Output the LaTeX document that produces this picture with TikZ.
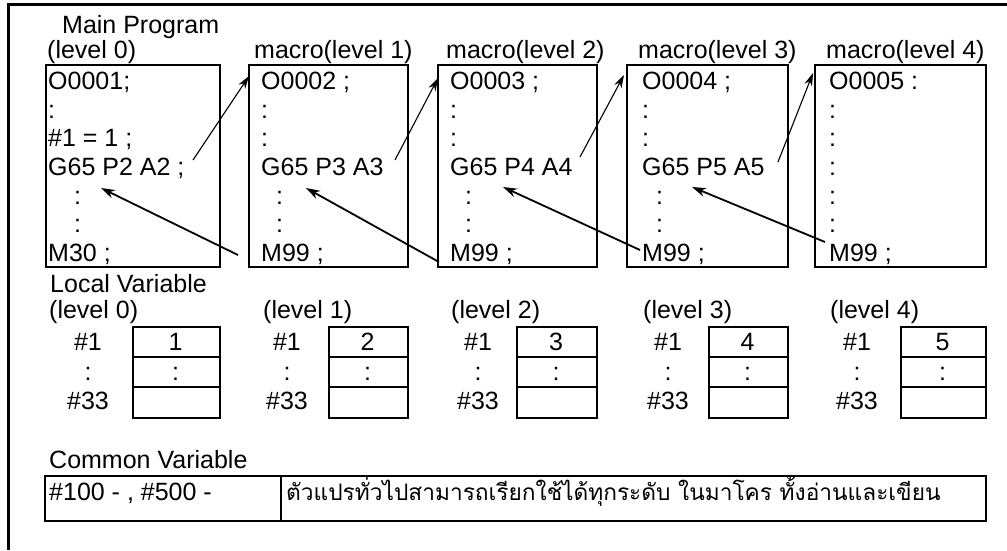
\documentclass[tikz,border=0pt]{standalone}
\usepackage{fontspec}
\setmainfont{Liberation Sans}
\newfontfamily\thaifont[Script=Thai]{Loma}
\usetikzlibrary{arrows.meta,calc}
\begin{document}
\begin{tikzpicture}[x=1pt,y=-1pt,
  txt/.style={inner sep=0pt,anchor=base west,font=\fontsize{25}{28}\selectfont},
  ctxt/.style={inner sep=0pt,anchor=base,font=\fontsize{25}{28}\selectfont},
  pbox/.style={draw,line width=2pt,inner sep=0pt,anchor=north west},
  cell/.style={draw,line width=2pt,inner sep=0pt,anchor=north west},
  frame/.style={line width=3pt},
  callarrow/.style={line width=1.1pt,-{Stealth[length=13pt,width=8pt]}},
  retarrow/.style={line width=1.8pt,-{Stealth[length=14pt,width=9pt]}}]
\useasboundingbox (0,0) rectangle (1007,550);
% outer frame (clipped)
\draw[frame] (8,550) -- (8,4.5) -- (1007,4.5);

% program boxes
\node[pbox,minimum width=174pt,minimum height=202pt] (b0) at (45,64) {};
\node[pbox,minimum width=159pt,minimum height=202pt] (b1) at (248,64) {};
\node[pbox,minimum width=159pt,minimum height=202pt] (b2) at (437,64) {};
\node[pbox,minimum width=161pt,minimum height=202pt] (b3) at (626,64) {};
\node[pbox,minimum width=171pt,minimum height=202pt] (b4) at (814,64) {};

% headers
\node[txt] (hmain) at (62,33) {Main Program};
\node[txt] (hl0) at (47,58) {(level 0)};
\node[txt] (hl1) at (254,58) {macro(level 1)};
\node[txt] (hl2) at (446,58) {macro(level 2)};
\node[txt] (hl3) at (638,58) {macro(level 3)};
\node[txt] (hl4) at (826,58) {macro(level 4)};

% box 0
\node[txt] (p0a) at (48,89.3) {O0001;};
\node[txt] (p0b) at (48,118) {:};
\node[txt] (p0c) at (48,146.7) {\#1 = 1 ;};
\node[txt] (p0d) at (48,175.4) {G65 P2 A2 ;};
\node[txt] (p0e) at (74,204) {:};
\node[txt] (p0f) at (74,232.8) {:};
\node[txt] (p0g) at (48,261.5) {M30 ;};
% box 1
\node[txt] (p1a) at (261,89.3) {O0002 ;};
\node[txt] (p1b) at (261,118) {:};
\node[txt] (p1c) at (261,146.7) {:};
\node[txt] (p1d) at (261,175.4) {G65 P3 A3};
\node[txt] (p1e) at (276,204) {:};
\node[txt] (p1f) at (276,232.8) {:};
\node[txt] (p1g) at (261,261.5) {M99 ;};
% box 2
\node[txt] (p2a) at (450,89.3) {O0003 ;};
\node[txt] (p2b) at (450,118) {:};
\node[txt] (p2c) at (450,146.7) {:};
\node[txt] (p2d) at (450,175.4) {G65 P4 A4};
\node[txt] (p2e) at (465,204) {:};
\node[txt] (p2f) at (465,232.8) {:};
\node[txt] (p2g) at (450,261.5) {M99 ;};
% box 3
\node[txt] (p3a) at (642,89.3) {O0004 ;};
\node[txt] (p3b) at (642,118) {:};
\node[txt] (p3c) at (642,146.7) {:};
\node[txt] (p3d) at (642,175.4) {G65 P5 A5};
\node[txt] (p3e) at (656,204) {:};
\node[txt] (p3f) at (656,232.8) {:};
\node[txt] (p3g) at (642,261.5) {M99 ;};
% box 4
\node[txt] (p4a) at (829,89.3) {O0005 :};
\node[txt] (p4b) at (829,118) {:};
\node[txt] (p4c) at (829,146.7) {:};
\node[txt] (p4d) at (829,175.4) {:};
\node[txt] (p4e) at (829,204) {:};
\node[txt] (p4f) at (829,232.8) {:};
\node[txt] (p4g) at (829,261.5) {M99 ;};

% call arrows
\coordinate (c0s) at (193,160); \coordinate (c0e) at (249,76);
\coordinate (c1s) at (395,160); \coordinate (c1e) at (438,78);
\coordinate (c2s) at (580,157); \coordinate (c2e) at (624,75);
\coordinate (c3s) at (778,162); \coordinate (c3e) at (813,73);
\draw[callarrow] (c0s) -- (c0e);
\draw[callarrow] (c1s) -- (c1e);
\draw[callarrow] (c2s) -- (c2e);
\draw[callarrow] (c3s) -- (c3e);
% return arrows
\coordinate (r1s) at (238,255); \coordinate (r1e) at (101,188);
\coordinate (r2s) at (439,262); \coordinate (r2e) at (306,188);
\coordinate (r3s) at (640,250); \coordinate (r3e) at (503,187);
\coordinate (r4s) at (825,242); \coordinate (r4e) at (692,187);
\draw[retarrow] (r1s) -- (r1e);
\draw[retarrow] (r2s) -- (r2e);
\draw[retarrow] (r3s) -- (r3e);
\draw[retarrow] (r4s) -- (r4e);

% local variables
\node[txt] (hlocal) at (50,292) {Local Variable};
\node[txt] (ll0) at (49,318) {(level 0)};
\node[txt] (ll1) at (263,318) {(level 1)};
\node[txt] (ll2) at (451,318) {(level 2)};
\node[txt] (ll3) at (643,318) {(level 3)};
\node[txt] (ll4) at (830,318) {(level 4)};

\foreach \i/\tx/\w/\lx/\v in {0/132/87/88/1, 1/328/79/287/2, 2/516/80/478/3, 3/708/79/668/4, 4/900/85/857/5}{
  \node[cell,minimum width=\w pt,minimum height=30pt] (t\i a) at (\tx,326) {};
  \node[cell,minimum width=\w pt,minimum height=30pt] (t\i b) at (\tx,356) {};
  \node[cell,minimum width=\w pt,minimum height=31pt] (t\i c) at (\tx,386) {};
  \node[ctxt] (v\i a) at ($(\tx,350)+(0.5*\w,0)$) {\v};
  \node[ctxt] (v\i b) at ($(\tx,380)+(0.5*\w,0)$) {:};
  \node[ctxt] (l\i a) at (\lx,350) {\#1};
  \node[ctxt] (l\i b) at (\lx,380) {:};
  \node[ctxt] (l\i c) at (\lx,409) {\#33};
}

% common variable
\node[txt] (hcommon) at (49,468) {Common Variable};
\node[cell,minimum width=236pt,minimum height=45pt] (cv1) at (44,475) {};
\node[cell,minimum width=705pt,minimum height=45pt] (cv2) at (280,475) {};
\node[txt] (cvt1) at (49,500) {\#100 - , \#500 -};
\node[txt,font=\thaifont\fontsize{22.7}{28}\selectfont] (cvt2) at (286,500) {ตัวแปรทั่วไปสามารถเรียกใช้ได้ทุกระดับ ในมาโคร ทั้งอ่านและเขียน};
\end{tikzpicture}
\end{document}
